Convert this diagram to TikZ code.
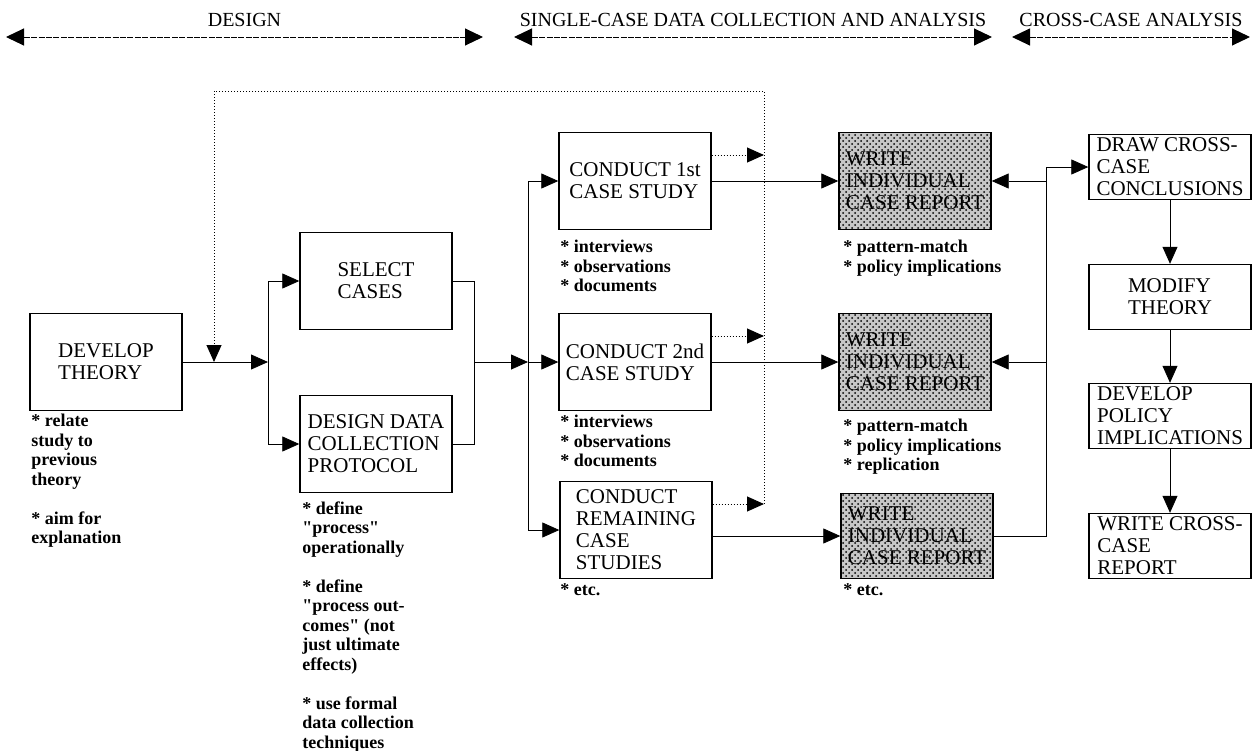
\documentclass[tikz,border=0pt]{standalone}
\usepackage{fontspec}
\setmainfont{Liberation Serif}
\usetikzlibrary{arrows.meta,patterns}

\begin{document}
\begin{tikzpicture}[x=0.5pt,y=-0.5pt,
        tip/.style={-{Triangle[length=8.5pt,width=7.5pt]}},
        hdr/.style={{Triangle[length=9pt,width=8.5pt]}-{Triangle[length=9pt,width=8.5pt]},line width=0.5pt,dash pattern=on 3pt off 0.7pt},
        fb/.style={densely dotted,line width=0.5pt},
        box/.style={draw,line width=0.7pt,align=left,font=\fontsize{10.5}{11}\selectfont,minimum width=76pt,minimum height=48.5pt,inner sep=2pt},
        wide/.style={box,minimum width=81pt,minimum height=32.5pt,inner ysep=0.3pt},
        shaded/.style={box,fill=black!22,postaction={pattern=crosshatch dots,pattern color=black}},
        note/.style={anchor=north west,align=left,inner sep=0pt,font=\fontsize{9}{9.75}\selectfont\bfseries}]
    \useasboundingbox (0,0) rectangle (1253,750);
    % phases
    \foreach \name/\a/\b/\txt in {hdesign/6/483/DESIGN,hsingle/514/992/SINGLE-CASE DATA COLLECTION AND ANALYSIS,hcross/1012/1250/CROSS-CASE ANALYSIS} {
        \coordinate (\name-l) at (\a,37);
        \coordinate (\name-r) at (\b,37);
        \node[font=\fontsize{10}{12}\selectfont] (\name) at ({(\a+\b)/2},20) {\txt};
        \draw[hdr] (\name-l) -- (\name-r);
    }
    % boxes
    \node[box] (theory) at (106,362) {DEVELOP\\THEORY};
    \node[box] (select) at (376,281) {SELECT\\CASES};
    \node[box] (protocol) at (376,444) {DESIGN DATA\\COLLECTION\\PROTOCOL};
    \node[box] (case1) at (635,181) {CONDUCT 1st\\CASE STUDY};
    \node[box] (case2) at (635,362) {CONDUCT 2nd\\CASE STUDY};
    \node[box] (case3) at (636,530) {CONDUCT\\REMAINING\\CASE\\STUDIES};
    \node[shaded] (rep1) at (915,181) {WRITE\\INDIVIDUAL\\CASE REPORT};
    \node[shaded] (rep2) at (915,362) {WRITE\\INDIVIDUAL\\CASE REPORT};
    \node[shaded,minimum height=42.5pt] (rep3) at (917,536) {WRITE\\INDIVIDUAL\\CASE REPORT};
    \node[wide] (cross) at (1170,167) {DRAW CROSS-\\CASE\\CONCLUSIONS};
    \node[wide] (modify) at (1170,297) {MODIFY\\THEORY};
    \node[wide] (policy) at (1170,416) {DEVELOP\\POLICY\\IMPLICATIONS};
    \node[wide] (crossrep) at (1170,546) {WRITE CROSS-\\CASE\\REPORT};
    % notes
    \node[note] (ntheory) at (31,414) {* relate\\study to\\previous\\theory\\[9.75pt]* aim for\\explanation};
    \node[note] (nprotocol) at (302,501) {* define\\\textquotedbl process\textquotedbl\\operationally\\[9.75pt]* define\\\textquotedbl process out-\\comes\textquotedbl{} (not\\just ultimate\\effects)\\[9.75pt]* use formal\\data collection\\techniques};
    \node[note] (ncase1) at (560,240) {* interviews\\* observations\\* documents};
    \node[note] (ncase2) at (560,415) {* interviews\\* observations\\* documents};
    \node[note] (ncase3) at (560,583) {* etc.};
    \node[note] (nrep1) at (843,240) {* pattern-match\\* policy implications};
    \node[note] (nrep2) at (843,419) {* pattern-match\\* policy implications\\* replication};
    \node[note] (nrep3) at (843,583) {* etc.};
    % connectors
    \coordinate (j1) at (268,362);
    \coordinate (j2) at (474,362);
    \coordinate (j3) at (528,362);
    \coordinate (j4) at (1046,167);
    \coordinate (fbtop) at (764,91);
    \coordinate (fbin) at (214,362);
    \draw[tip] (theory) -- (j1);
    \draw[tip] (j1) |- (select);
    \draw[tip] (j1) |- (protocol);
    \draw (select) -| (j2);
    \draw (protocol) -| (j2);
    \draw[tip] (j2) -- (j3);
    \draw[tip] (j3) |- (case1);
    \draw[tip] (j3) -- (case2);
    \draw[tip] (j3) |- (case3);
    \draw[tip] (case1) -- (rep1);
    \draw[tip] (case2) -- (rep2);
    \draw[tip] (case3.east |- rep3) -- (rep3);
    \draw (rep3) -| (j4);
    \draw[tip] (j4) -- (cross);
    \draw[tip] (j4 |- rep1) -- (rep1);
    \draw[tip] (j4 |- rep2) -- (rep2);
    \foreach \a/\b in {cross/modify,modify/policy,policy/crossrep}
        \draw[tip] (\a) -- (\b);
    % feedback to theory
    \foreach \c in {case1,case2,case3}
        \draw[fb,tip] ([yshift=13pt]\c.east) -- ([yshift=13pt]\c.east -| fbtop);
    \draw[fb,tip] ([yshift=13pt]case3.east -| fbtop) -- (fbtop) -| (fbin);
\end{tikzpicture}
\end{document}
